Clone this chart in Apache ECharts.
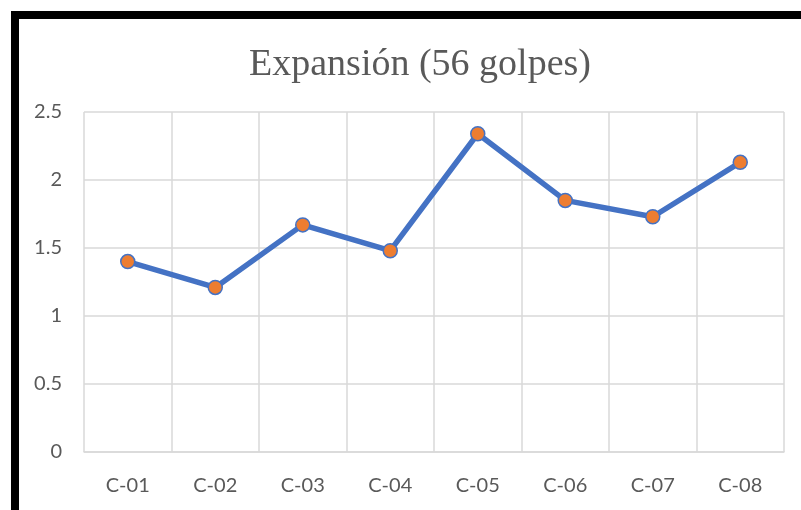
<!DOCTYPE html>
<html>
<head>
<meta charset="utf-8">
<script src="https://cdn.jsdelivr.net/npm/echarts@6/dist/echarts.min.js"></script>
<style>
html,body{margin:0;padding:0;background:#fff;}
#chart{width:801px;height:510px;}
</style>
</head>
<body>
<div id="chart"></div>
<script>
const titleText = 'Expansión (56 golpes)';
const categories = ['C-01','C-02','C-03','C-04','C-05','C-06','C-07','C-08'];
const values = [1.40, 1.21, 1.67, 1.48, 2.34, 1.85, 1.73, 2.13];
const yTicks = [0, 0.5, 1, 1.5, 2, 2.5];

const chart = echarts.init(document.getElementById('chart'), null, {renderer:'canvas'});
chart.setOption({
  animation: false,
  backgroundColor: '#fff',
  graphic: [
    {type:'rect', shape:{x:11, y:11, width:790, height:8}, style:{fill:'#000'}},
    {type:'rect', shape:{x:11, y:11, width:8, height:499}, style:{fill:'#000'}}
  ],
  title: {
    text: titleText,
    left: 415, top: 41, textAlign: 'center',
    textStyle: {fontFamily:'Liberation Serif', fontWeight:'normal', fontSize:38, color:'#595959'}
  },
  grid: {left: 84, right: 17, top: 112, bottom: 58, containLabel: false},
  xAxis: {
    type: 'category', data: categories, boundaryGap: true,
    axisLine: {show:true, lineStyle:{color:'#d9d9d9', width:1.5}},
    axisTick: {show:false},
    splitLine: {show:true, lineStyle:{color:'#d9d9d9', width:1.5}},
    axisLabel: {color:'#595959', fontFamily:'Lato', fontSize:20, margin:24}
  },
  yAxis: {
    type: 'value', min: 0, max: yTicks[yTicks.length-1], interval: 0.5,
    axisLine: {show:false}, axisTick: {show:false},
    splitLine: {show:true, lineStyle:{color:'#d9d9d9', width:1.5}},
    axisLabel: {color:'#595959', fontFamily:'Lato', fontSize:20, margin:22}
  },
  series: [{
    type: 'line', data: values,
    lineStyle: {color:'#4472C4', width:5.5},
    symbol: 'circle', symbolSize: 14,
    itemStyle: {color:'#ED7D31', borderColor:'#4472C4', borderWidth:1.5}
  }]
});
</script>
</body>
</html>
